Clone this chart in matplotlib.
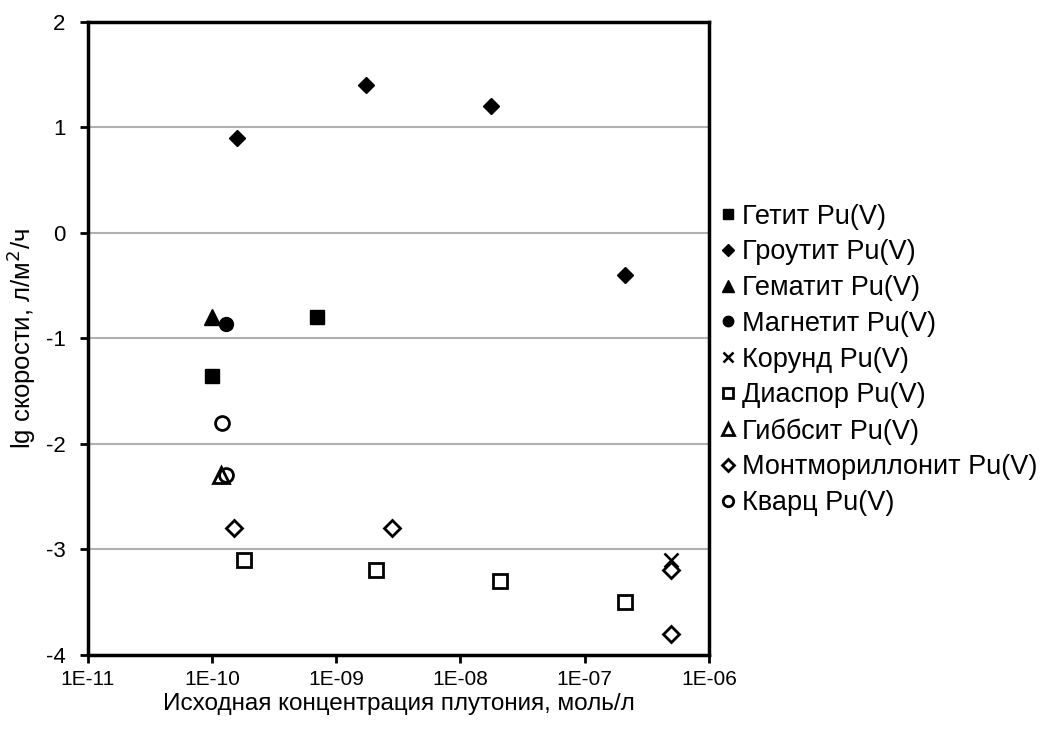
import numpy as np
import matplotlib.pyplot as plt

plt.rcParams['font.family'] = ['Liberation Sans', 'DejaVu Sans']
plt.rcParams['axes.unicode_minus'] = False

# Данные (x - концентрация, моль/л; y - lg скорости)
getit_x = [1.0e-10, 7.0e-10]
getit_y = [-1.36, -0.8]
groutit_x = [1.6e-10, 1.75e-9, 1.75e-8, 2.1e-7]
groutit_y = [0.9, 1.4, 1.2, -0.4]
gematit_x = [1.0e-10]
gematit_y = [-0.8]
magnetit_x = [1.3e-10]
magnetit_y = [-0.86]
korund_x = [5.0e-7]
korund_y = [-3.1]
diaspor_x = [1.8e-10, 2.1e-9, 2.1e-8, 2.1e-7]
diaspor_y = [-3.1, -3.2, -3.3, -3.5]
gibbsit_x = [1.17e-10]
gibbsit_y = [-2.3]
montm_x = [1.5e-10, 2.8e-9, 5.0e-7, 5.0e-7]
montm_y = [-2.8, -2.8, -3.2, -3.8]
kvarc_x = [1.2e-10, 1.3e-10]
kvarc_y = [-1.8, -2.3]

xticks = [1e-11, 1e-10, 1e-9, 1e-8, 1e-7, 1e-6]
xticklabels = ['1E-11', '1E-10', '1E-09', '1E-08', '1E-07', '1E-06']
yticks = [-4, -3, -2, -1, 0, 1, 2]

fig = plt.figure(figsize=(10.47, 7.34), dpi=100)
ax = fig.add_axes([0.084, 0.108, 0.593, 0.862])

ms = 10
ax.plot(getit_x, getit_y, 's', color='black', ms=ms, label='Гетит Pu(V)', zorder=3)
ax.plot(groutit_x, groutit_y, 'D', color='black', ms=ms - 2, label='Гроутит Pu(V)', zorder=3)
ax.plot(gematit_x, gematit_y, '^', color='black', ms=ms + 1, label='Гематит Pu(V)', zorder=3)
ax.plot(magnetit_x, magnetit_y, 'o', color='black', ms=ms, label='Магнетит Pu(V)', zorder=3)
ax.plot(korund_x, korund_y, 'x', color='black', ms=ms, mew=1.8, label='Корунд Pu(V)', zorder=3)
ax.plot(diaspor_x, diaspor_y, 's', mfc='white', mec='black', mew=2, ms=ms, label='Диаспор Pu(V)', zorder=3)
ax.plot(gibbsit_x, gibbsit_y, '^', mfc='none', mec='black', mew=2, ms=ms + 1, label='Гиббсит Pu(V)', zorder=3)
ax.plot(montm_x, montm_y, 'D', mfc='white', mec='black', mew=2, ms=ms - 2, label='Монтмориллонит Pu(V)', zorder=3)
ax.plot(kvarc_x, kvarc_y, 'o', mfc='none', mec='black', mew=2, ms=ms, label='Кварц Pu(V)', zorder=3)

ax.set_xscale('log')
ax.set_xlim(1e-11, 1e-6)
ax.set_ylim(-4, 2)
ax.set_xticks(xticks)
ax.set_xticklabels(xticklabels)
ax.minorticks_off()
ax.set_yticks(yticks)
ax.yaxis.grid(True, color='#b0b0b0', lw=1.5)
ax.set_axisbelow(True)
for s in ax.spines.values():
    s.set_linewidth(2.5)
ax.tick_params(axis='both', width=2, length=6, direction='out')
ax.tick_params(axis='x', labelsize=15, pad=5)
ax.tick_params(axis='y', labelsize=16, pad=10)

ax.set_xlabel('Исходная концентрация плутония, моль/л', fontsize=17.5, labelpad=3)
ax.set_ylabel('lg скорости, л/м$^2$/ч', fontsize=18.5, labelpad=6)

leg = ax.legend(loc='center left', bbox_to_anchor=(1.012, 0.466), frameon=False,
                fontsize=19.5, handletextpad=0.05, handlelength=0.9, labelspacing=0.36,
                markerscale=0.75, borderaxespad=0, borderpad=0)

fig.savefig('out.png', dpi=100)
